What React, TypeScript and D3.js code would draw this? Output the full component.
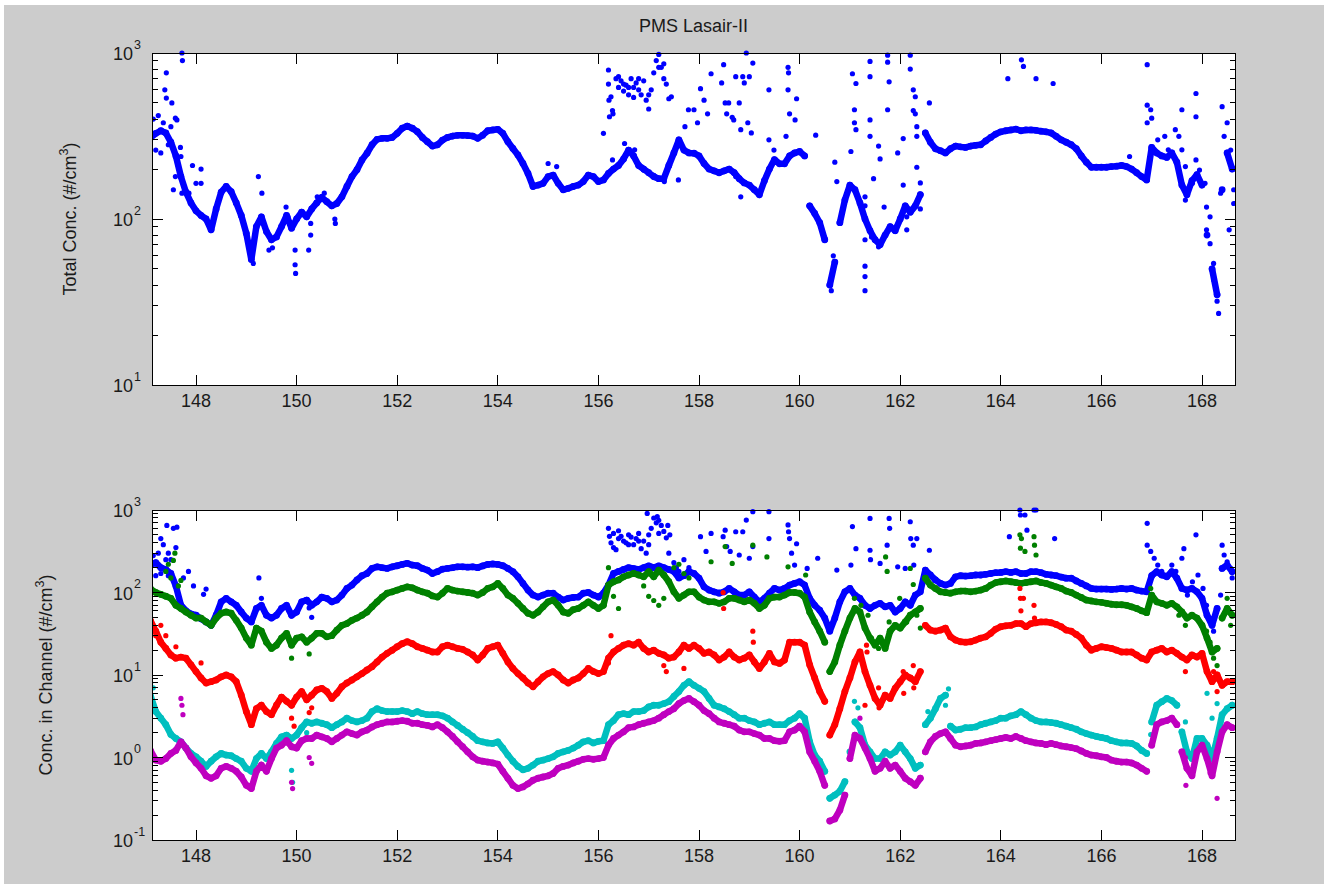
import React from "react";
import * as d3 from "d3";

// ---------------- data ----------------
const TITLE = "PMS Lasair-II";
const X_TICKS = [148, 150, 152, 154, 156, 158, 160, 162, 164, 166, 168];
const TOP_DECADES = [1, 2, 3];
const BOTTOM_DECADES = [-1, 0, 1, 2, 3];
const FIRST_DAY = 147.1;
const DAY_STEP = 0.1;

// Total concentration (#/cm3), one reading per 0.1 day from 147.1 to 168.6
const totalConc = [
  310, 328, 340, 330, 290, 240, 180, 145, 125, 112,
  105, 100, 86, 115, 145, 157, 146, 125, 105, 82,
  57, 90, 103, 84, 75, 78, 90, 105, 88, 100,
  110, 103, 115, 125, 135, 127, 120, 124, 136, 157,
  180, 198, 227, 249, 280, 302, 306, 306, 310, 328,
  352, 363, 352, 336, 310, 292, 275, 280, 299, 310,
  316, 319, 319, 318, 316, 306, 320, 340, 344, 347,
  328, 292, 266, 243, 216, 188, 157, 160, 164, 180,
  184, 164, 150, 153, 157, 160, 168, 184, 180, 168,
  172, 188, 200, 210, 230, 260, 240, 210, 200, 190,
  180, 175, 175, 210, 250, 300, 260, 250, 249, 240,
  216, 200, 195, 190, 195, 200, 190, 175, 165, 160,
  150, 140, 170, 200, 228, 215, 215, 240, 250, 255,
  240, 120, 108, 95, 75, 40, 55, 95, 130, 160,
  150, 125, 100, 85, 75, 70, 80, 90, 85, 100,
  120, 110, 120, 140, 330, 290, 265, 258, 250, 265,
  275, 272, 270, 275, 278, 280, 295, 310, 325, 335,
  340, 344, 348, 340, 344, 344, 342, 338, 335, 330,
  315, 300, 290, 280, 265, 240, 220, 205, 205, 205,
  205, 207, 208, 210, 207, 200, 190, 180, 172, 270,
  250, 240, 235, 250, 220, 160, 140, 170, 185, 160,
  80, 50, 35, 150, 250, 200,
];

// Isolated total-concentration readings [day, value]
const totalExtra: [number, number][] = [
  [147.72, 1000], [147.73, 900], [147.41, 760], [147.38, 600], [147.41, 535], [147.52, 500],
  [147.59, 405], [147.62, 395], [147.69, 270], [147.7, 238], [147.59, 180], [147.55, 150],
  [147.93, 210], [148.1, 200], [148.1, 164], [147.72, 143], [147.86, 143], [148.0, 164],
  [147.15, 400], [147.2, 260], [147.25, 420], [147.3, 250], [147.35, 380], [147.45, 280], [147.5, 360],
  [149.24, 180], [149.31, 143], [149.07, 65], [149.1, 58], [149.14, 54], [149.45, 65], [149.52, 67],
  [149.79, 118], [149.83, 103], [149.97, 65], [149.97, 53], [149.98, 47], [150.24, 65],
  [150.28, 94], [150.28, 80], [150.41, 136], [150.55, 143], [150.76, 100], [150.77, 94],
  [155.0, 216], [155.17, 207], [156.1, 328],
  [156.2, 790], [156.2, 650], [156.21, 520], [156.22, 413], [156.25, 545], [156.28, 450], [156.29, 430],
  [156.35, 700], [156.4, 620], [156.4, 720], [156.45, 680], [156.5, 590], [156.5, 650], [156.55, 640],
  [156.6, 560], [156.6, 620], [156.65, 700], [156.7, 620], [156.7, 540], [156.75, 660], [156.8, 600],
  [156.8, 700], [156.85, 560], [156.9, 680], [156.95, 520], [157.0, 460], [157.0, 560], [157.05, 600],
  [157.1, 760], [157.15, 900], [157.2, 980], [157.2, 820], [157.25, 820], [157.3, 700], [157.3, 860],
  [157.35, 650], [157.4, 530], [157.45, 545],
  [156.28, 227], [156.52, 285], [156.72, 261], [156.9, 197], [157.1, 183], [157.31, 168],
  [157.59, 172], [157.72, 360], [157.79, 455],
  [157.9, 455], [157.97, 380], [158.03, 610], [158.1, 520], [158.17, 430], [158.24, 750], [158.45, 660],
  [158.49, 850], [158.52, 500], [158.55, 430], [158.59, 500], [158.66, 410], [158.69, 395], [158.73, 720],
  [158.8, 500], [158.83, 345], [158.87, 720], [158.9, 660], [158.94, 1000], [158.97, 380], [159.0, 720],
  [159.04, 330], [159.07, 870], [159.39, 600], [159.39, 300], [159.49, 260], [159.77, 820], [159.78, 760],
  [159.77, 600], [159.8, 430], [159.91, 395], [159.94, 530], [159.73, 315], [160.32, 320],
  [158.83, 136], [158.73, 180],
  [160.7, 220], [160.74, 168], [161.05, 750], [161.12, 655], [161.09, 455], [161.09, 380], [161.12, 345],
  [161.02, 255], [161.4, 890], [161.4, 720], [161.4, 395], [161.4, 315], [161.57, 275], [161.6, 230],
  [161.47, 175], [161.3, 75], [161.3, 52], [161.3, 45], [161.3, 37], [161.75, 970], [161.75, 880],
  [161.75, 455], [161.78, 670], [161.95, 250], [162.06, 305], [162.06, 160], [162.2, 970], [162.2, 800],
  [162.26, 600], [162.26, 450], [162.3, 545], [162.3, 430], [162.33, 360], [162.33, 315], [162.33, 205],
  [162.4, 165], [162.4, 115], [162.58, 500], [160.67, 60], [160.6, 40], [160.63, 37], [161.3, 136],
  [161.3, 120], [161.43, 78], [161.57, 68], [161.68, 118], [161.92, 90], [162.13, 103], [162.13, 86],
  [164.14, 700], [164.41, 910], [164.45, 830], [164.7, 700], [165.04, 655], [166.91, 850], [166.56, 238],
  [166.91, 485], [166.91, 380], [166.98, 455], [167.0, 405], [167.12, 300], [167.26, 315], [167.33, 261],
  [167.47, 345], [167.54, 315], [167.6, 455], [167.6, 261], [167.67, 207], [167.67, 130], [167.81, 164],
  [167.88, 570], [167.88, 413], [167.88, 227], [167.95, 197], [168.06, 164], [168.09, 118], [168.16, 103],
  [168.09, 86], [168.16, 71], [168.23, 54], [168.23, 43], [168.3, 32], [168.33, 27], [168.37, 143],
  [168.4, 475], [168.44, 315], [168.5, 380], [168.57, 260], [168.6, 205], [168.63, 150], [168.63, 124],
  [168.54, 86],
];

// Concentration per channel (#/cm3), one reading per 0.1 day from 147.1 to 168.6
const channel1 = [
  215, 230, 200, 190, 170, 120, 70, 60, 55, 53,
  48, 44, 40, 53, 77, 85, 77, 70, 58, 49,
  44, 64, 70, 53, 49, 53, 64, 70, 53, 58,
  77, 81, 70, 77, 88, 85, 77, 81, 93, 112,
  123, 142, 160, 170, 196, 205, 200, 196, 205, 211,
  219, 226, 215, 211, 196, 187, 170, 179, 192, 196,
  200, 205, 205, 203, 205, 200, 210, 219, 222, 219,
  211, 196, 179, 155, 129, 107, 93, 88, 93, 98,
  98, 88, 81, 85, 87, 88, 98, 100, 93, 88,
  98, 123, 170, 180, 190, 200, 195, 190, 200, 210,
  200, 210, 200, 190, 180, 150, 160, 180, 170, 149,
  117, 107, 102, 98, 102, 112, 102, 93, 93, 102,
  88, 77, 85, 98, 112, 107, 112, 123, 129, 135,
  123, 85, 70, 61, 49, 34, 49, 77, 102, 112,
  93, 85, 70, 64, 70, 74, 67, 70, 58, 64,
  77, 70, 93, 102, 187, 163, 142, 129, 123, 129,
  155, 160, 158, 160, 163, 163, 166, 170, 174, 175,
  179, 175, 179, 170, 170, 179, 179, 174, 166, 163,
  160, 154, 149, 149, 138, 129, 120, 112, 110, 110,
  110, 109, 110, 112, 110, 112, 107, 104, 102, 160,
  179, 163, 155, 179, 149, 112, 107, 112, 102, 85,
  53, 40, 64, 196, 215, 179,
];
const channel2 = [
  110, 100, 95, 90, 85, 70, 64, 58, 53, 49,
  49, 44, 40, 49, 56, 58, 56, 46, 37, 28,
  23, 37, 34, 25, 21, 23, 28, 32, 23, 28,
  29, 25, 28, 32, 32, 29, 30, 35, 40, 42,
  46, 49, 53, 58, 67, 77, 88, 98, 102, 107,
  112, 117, 114, 107, 102, 98, 91, 88, 98, 112,
  107, 104, 102, 100, 98, 93, 100, 112, 117, 129,
  112, 93, 85, 74, 64, 56, 53, 58, 67, 77,
  81, 70, 58, 56, 62, 64, 70, 77, 70, 64,
  70, 123, 135, 142, 155, 163, 170, 163, 155, 179,
  155, 187, 163, 135, 102, 85, 93, 102, 102, 88,
  81, 77, 77, 74, 77, 85, 85, 81, 77, 81,
  74, 64, 70, 85, 88, 88, 93, 100, 100, 98,
  88, 58, 44, 34, 25, 11, 14.4, 23, 34, 49,
  64, 58, 37, 28, 23, 28, 21, 34, 40, 37,
  44, 53, 58, 64, 149, 123, 112, 102, 100, 98,
  102, 104, 104, 102, 104, 107, 112, 123, 132, 135,
  138, 135, 132, 129, 132, 135, 138, 132, 129, 123,
  117, 112, 104, 100, 93, 87, 81, 79, 77, 76,
  74, 72, 71, 71, 70, 67, 64, 60, 57, 93,
  77, 74, 70, 74, 67, 58, 49, 53, 49, 40,
  28, 19, 21, 49, 64, 53,
];
const channel3 = [
  45, 34, 25, 21, 17.5, 16, 16.5, 16, 13.3, 11,
  9.2, 8, 8.3, 8.7, 9.5, 10, 9.5, 8.3, 5.7, 3.6,
  2.5, 3.9, 4.3, 3.6, 3.3, 4.3, 5.4, 4.8, 4.3, 5.4,
  6.3, 5.0, 5.7, 6.6, 6.9, 6.3, 5.2, 6.0, 7.2, 8.0,
  8.7, 9.5, 10.4, 11.5, 12.6, 14.4, 16.5, 18.3, 20, 22,
  24, 25.3, 24, 22, 21, 20, 19, 19, 22, 23,
  22, 21, 20.5, 19, 17.5, 15.2, 17.5, 21, 22, 23,
  18.3, 14.4, 12, 10.4, 9.2, 8.0, 7.2, 8.3, 9.5, 10.4,
  11, 10, 8.7, 8.0, 8.7, 9.2, 10.4, 12, 11, 10.4,
  11, 16, 19, 21, 23, 24, 23, 25, 21, 19,
  20, 18.3, 17.5, 16, 16.5, 19, 23, 21, 23, 21,
  18.3, 19, 17.5, 15.2, 16.5, 19, 16.5, 15.2, 16, 17.5,
  14.4, 12, 14.4, 18.3, 14.4, 13.8, 15.2, 25, 25, 25,
  23, 13.3, 9.2, 6.3, 4.8, 1.87, 2.5, 3.9, 6.3, 9.2,
  14.4, 19, 11, 7.5, 5.2, 4.3, 5.7, 5.2, 6.9, 8.3,
  10, 9.2, 8.3, 11, 40, 35, 34, 35, 37, 29,
  26.5, 25.3, 25, 25.3, 26.5, 28, 29, 32, 36, 38.5,
  39.5, 40, 42, 42, 38.5, 42, 43, 44, 44, 43,
  41, 38.5, 35, 34, 31, 28, 23, 20, 21, 22,
  21.5, 21, 20, 19, 19, 19, 17.5, 16, 15.2, 19,
  20, 21, 19, 20, 18.3, 16.5, 15.2, 17.5, 16.5, 18.3,
  11, 8.3, 10, 7.5, 8.3, 8.3,
];
const channel4 = [
  5.5, 3.6, 3.0, 2.5, 1.9, 1.7, 1.55, 1.3, 1.12, 1.02,
  0.9, 0.78, 0.9, 1.02, 1.12, 1.07, 1.05, 0.97, 0.9, 0.74,
  0.68, 0.97, 1.12, 0.97, 1.17, 1.48, 1.78, 1.87, 1.7, 1.87,
  2.3, 2.7, 2.6, 2.7, 2.6, 2.5, 2.3, 2.5, 2.7, 3.0,
  2.8, 2.7, 2.8, 3.0, 3.6, 3.9, 3.7, 3.6, 3.6, 3.6,
  3.7, 3.6, 3.4, 3.6, 3.4, 3.3, 3.3, 3.3, 3.2, 3.0,
  2.7, 2.45, 2.2, 2.0, 1.8, 1.6, 1.55, 1.5, 1.48, 1.55,
  1.3, 1.07, 0.9, 0.78, 0.71, 0.74, 0.81, 0.9, 0.93, 0.97,
  1.02, 1.12, 1.17, 1.22, 1.3, 1.41, 1.55, 1.6, 1.5, 1.57,
  1.6, 2.5, 2.8, 3.3, 3.4, 3.3, 3.6, 3.6, 3.7, 4.1,
  4.3, 4.3, 4.5, 4.75, 5.5, 6.3, 7.5, 8.3, 7.5, 6.9,
  6.3, 5.2, 4.3, 4.1, 3.9, 3.6, 3.3, 3.0, 3.0, 2.8,
  2.7, 2.5, 2.6, 2.7, 2.5, 2.5, 2.5, 2.8, 3.0, 3.4,
  3.0, 1.55, 1.07, 0.9, 0.68, 0.32, 0.35, 0.39, 0.51, 1.17,
  2.7, 2.3, 1.41, 1.17, 0.97, 0.97, 1.17, 1.07, 1.17, 1.41,
  1.17, 0.97, 0.74, 0.81, 2.5, 3.0, 3.9, 5.2, 5.7, 2.4,
  2.15, 2.2, 2.3, 2.3, 2.35, 2.5, 2.6, 2.7, 2.8, 3.0,
  3.0, 3.2, 3.3, 3.6, 3.3, 3.0, 2.8, 2.7, 2.7, 2.65,
  2.6, 2.5, 2.4, 2.3, 2.2, 2.05, 1.95, 1.87, 1.8, 1.75,
  1.7, 1.6, 1.55, 1.5, 1.5, 1.48, 1.38, 1.22, 1.12, 2.7,
  4.3, 4.75, 5.2, 4.9, 4.3, 2.05, 1.17, 0.97, 1.7, 1.7,
  1.41, 0.97, 1.7, 3.3, 3.9, 4.3,
];
const channel5 = [
  1.2, 0.93, 0.9, 0.97, 1.12, 1.22, 1.55, 1.3, 1.02, 0.86,
  0.74, 0.6, 0.56, 0.6, 0.74, 0.78, 0.74, 0.68, 0.58, 0.46,
  0.42, 0.68, 0.81, 0.68, 0.97, 1.3, 1.41, 1.6, 1.35, 1.3,
  1.6, 1.7, 1.7, 1.87, 1.78, 1.7, 1.55, 1.7, 1.87, 2.05,
  1.95, 1.87, 2.05, 2.15, 2.35, 2.5, 2.6, 2.7, 2.7, 2.75,
  2.8, 2.75, 2.6, 2.6, 2.5, 2.45, 2.35, 2.5, 2.3, 2.05,
  1.8, 1.55, 1.35, 1.17, 1.02, 0.93, 0.9, 0.88, 0.86, 0.83,
  0.68, 0.56, 0.46, 0.42, 0.44, 0.48, 0.53, 0.56, 0.58, 0.6,
  0.64, 0.74, 0.78, 0.81, 0.86, 0.9, 0.95, 0.97, 0.95, 0.97,
  1.0, 1.41, 1.7, 1.87, 2.05, 2.3, 2.35, 2.5, 2.6, 2.7,
  2.8, 3.0, 3.3, 3.6, 3.9, 4.5, 4.9, 5.2, 4.75, 4.3,
  3.7, 3.4, 3.0, 2.7, 2.6, 2.5, 2.4, 2.15, 2.05, 2.05,
  1.95, 1.87, 1.7, 1.7, 1.6, 1.57, 1.6, 2.05, 2.15, 2.4,
  2.05, 1.17, 0.9, 0.68, 0.46, 0.17, 0.18, 0.23, 0.35, 0.97,
  1.87, 1.7, 1.3, 0.97, 0.68, 0.74, 0.9, 0.74, 0.81, 0.68,
  0.56, 0.51, 0.46, 0.56, 1.17, 1.55, 1.8, 1.95, 2.05, 1.7,
  1.41, 1.35, 1.38, 1.41, 1.48, 1.5, 1.55, 1.6, 1.65, 1.7,
  1.75, 1.7, 1.8, 1.7, 1.6, 1.55, 1.5, 1.48, 1.43, 1.48,
  1.43, 1.38, 1.35, 1.32, 1.28, 1.2, 1.12, 1.07, 1.05, 1.02,
  1.0, 0.93, 0.9, 0.88, 0.88, 0.86, 0.81, 0.74, 0.68, 1.41,
  2.5, 2.7, 2.8, 3.0, 2.5, 1.17, 0.74, 0.6, 1.17, 1.41,
  0.97, 0.6, 1.17, 2.05, 2.5, 2.3,
];

// Isolated channel readings [day, value]
const channel1Extra: [number, number][] = [
  [147.3, 450], [147.35, 380], [147.42, 650], [147.45, 300], [147.5, 250], [147.55, 600], [147.62, 620],
  [147.6, 350], [147.75, 150], [147.85, 180], [147.95, 120], [148.15, 95], [148.2, 110], [149.25, 150],
  [149.3, 85], [149.85, 60], [150.25, 65], [150.3, 50],
  [147.15, 280], [147.2, 160], [147.25, 300], [147.3, 170], [147.4, 250], [147.45, 160],
  [156.2, 600], [156.22, 480], [156.25, 400], [156.3, 350], [156.3, 520], [156.35, 330], [156.4, 450],
  [156.4, 560], [156.45, 480], [156.5, 420], [156.55, 400], [156.6, 500], [156.6, 380], [156.65, 470],
  [156.7, 380], [156.75, 450], [156.8, 520], [156.8, 420], [156.85, 340], [156.9, 420], [156.95, 300],
  [156.97, 910], [157.0, 500], [157.0, 380], [157.05, 600], [157.1, 800], [157.15, 700], [157.17, 830],
  [157.2, 750], [157.2, 520], [157.25, 650], [157.3, 550], [157.35, 460], [157.38, 650], [157.4, 300],
  [157.42, 500], [157.5, 230], [157.55, 200], [157.6, 180], [157.7, 250], [157.75, 160], [157.8, 200],
  [159.07, 955], [159.39, 955], [158.94, 755], [158.52, 570], [158.73, 545], [158.87, 545], [158.48, 475],
  [158.24, 520], [158.03, 475], [158.55, 360], [158.62, 315], [158.8, 285], [159.0, 260], [158.14, 315],
  [159.07, 360], [159.39, 450], [159.77, 660], [159.78, 545], [159.8, 450], [159.84, 300], [159.94, 390],
  [159.9, 215], [160.15, 196], [160.36, 260], [160.74, 187], [161.02, 215], [161.05, 630], [161.12, 340],
  [161.4, 790], [161.4, 325], [161.41, 250], [161.6, 225], [161.78, 790], [161.79, 600], [161.74, 375],
  [161.95, 205], [162.2, 720], [162.21, 450], [162.26, 375], [162.27, 215], [162.33, 450], [162.1, 196],
  [162.58, 325], [164.38, 1000], [164.39, 870], [164.48, 870], [164.66, 1000], [164.7, 1000], [164.17, 475],
  [164.52, 570], [165.07, 450], [166.91, 690], [166.91, 375], [166.98, 315], [167.05, 260], [167.12, 215],
  [167.2, 180], [167.26, 163], [167.4, 215], [167.48, 180], [167.6, 260], [167.64, 340], [167.88, 500],
  [167.92, 163], [168.02, 112], [168.09, 70], [168.16, 49], [168.23, 34], [168.4, 375], [168.44, 285],
  [168.5, 236], [168.57, 196], [168.6, 150], [168.37, 93], [167.81, 135], [167.71, 93],
];
const channel2Extra: [number, number][] = [
  [147.4, 180], [147.45, 220], [147.5, 150], [147.55, 245], [147.58, 300], [147.65, 120], [147.7, 140],
  [149.9, 16], [150.25, 18], [156.2, 200], [156.3, 90], [156.4, 64], [157.0, 90], [157.1, 80],
  [157.2, 70], [157.3, 85], [156.9, 120], [157.5, 200], [157.6, 220], [157.7, 170], [157.8, 150],
  [158.24, 236], [158.52, 360], [158.66, 225], [159.07, 375], [159.35, 270], [159.77, 205], [160.12, 163],
  [161.09, 85], [161.22, 70], [161.36, 53], [161.43, 28], [161.57, 21], [161.71, 270], [161.74, 180],
  [161.78, 44], [161.99, 85], [162.13, 44], [162.2, 196], [162.26, 125], [162.33, 53], [162.4, 37],
  [164.38, 500], [164.39, 345], [164.41, 450], [164.48, 315], [164.66, 475], [164.67, 375], [164.7, 285],
  [166.98, 112], [167.54, 53], [167.67, 40], [168.09, 34], [168.16, 25], [168.23, 16], [168.3, 13],
  [168.5, 85], [168.57, 40],
];
const channel3Extra: [number, number][] = [
  [147.2, 30], [147.3, 40], [147.4, 30], [147.6, 22], [148.1, 14], [149.9, 3], [149.95, 2.4],
  [150.25, 3.5], [150.3, 4], [156.25, 30], [156.2, 14], [157.3, 13], [157.35, 11], [157.7, 12],
  [158.48, 100], [158.49, 64], [159.07, 34], [159.08, 25], [161.33, 23], [161.34, 19], [161.3, 4.3],
  [161.57, 7], [161.58, 4], [162.06, 11], [162.07, 6], [162.26, 13], [162.27, 7], [164.38, 112],
  [164.39, 85], [164.4, 60], [164.45, 85], [164.66, 70], [164.67, 49], [167.67, 11], [168.23, 11],
  [168.3, 6.3],
];
const channel4Extra: [number, number][] = [
  [147.1, 8], [147.15, 7], [149.9, 0.7], [149.92, 0.5], [150.2, 2.0], [161.16, 4], [161.17, 2.4],
  [161.09, 4.8], [162.55, 3.6], [162.96, 6.8], [162.9, 4.3], [168.1, 6], [168.2, 3], [168.3, 4.5],
  [167.67, 2.7], [166.98, 1.9],
];
const channel5Extra: [number, number][] = [
  [147.7, 5.2], [147.72, 4.3], [147.74, 3.3], [149.9, 0.5], [149.92, 0.42], [150.25, 1.0], [150.3, 0.85],
  [161.2, 3], [161.21, 1.7], [167.67, 1.0], [167.68, 0.46], [168.16, 0.65], [168.3, 0.32],
];

const CHANNEL_COLORS = ["#0000ff", "#008000", "#ff0000", "#00bfbf", "#bf00bf"];

// ---------------- drawing ----------------
const FONT = "'Liberation Sans', Arial, Helvetica, sans-serif";
const TEXT = "#1a1a1a";

type Panel = {
  y: d3.ScaleLogarithmic<number, number>;
  decades: number[];
  top: number;
  bottom: number;
};

function Axes({ x, panel, left, right }: { x: d3.ScaleLinear<number, number>; panel: Panel; left: number; right: number }) {
  const { y, decades, top, bottom } = panel;
  const major = 10.5;
  const minor = 5.5;
  const minorVals: number[] = [];
  for (let i = 0; i < decades.length - 1; i++) {
    for (let k = 2; k <= 9; k++) minorVals.push(k * Math.pow(10, decades[i]));
  }
  return (
    <g>
      <g stroke="#000" strokeWidth={1} shapeRendering="crispEdges">
        {X_TICKS.map((t) => (
          <g key={"x" + t}>
            <line x1={x(t)} x2={x(t)} y1={bottom} y2={bottom - major} />
            <line x1={x(t)} x2={x(t)} y1={top} y2={top + major} />
          </g>
        ))}
        {decades.map((d) => {
          const yy = y(Math.pow(10, d));
          return (
            <g key={"y" + d}>
              <line x1={left} x2={left + major} y1={yy} y2={yy} />
              <line x1={right} x2={right - major} y1={yy} y2={yy} />
            </g>
          );
        })}
        {minorVals.map((v, i) => {
          const yy = y(v);
          return (
            <g key={"m" + i}>
              <line x1={left} x2={left + minor} y1={yy} y2={yy} />
              <line x1={right} x2={right - minor} y1={yy} y2={yy} />
            </g>
          );
        })}
        <rect x={left} y={top} width={right - left} height={bottom - top} fill="none" />
      </g>
      <g fontFamily={FONT} fill={TEXT}>
        {X_TICKS.map((t) => (
          <text key={"xl" + t} x={x(t)} y={bottom + 22} fontSize={18} textAnchor="middle">
            {t}
          </text>
        ))}
        {decades.map((d) => {
          const yy = y(Math.pow(10, d));
          return (
            <g key={"yl" + d}>
              <text x={133} y={yy + 7} fontSize={18} textAnchor="end">10</text>
              <text x={134} y={yy - 4.5} fontSize={12.5} textAnchor="start">{String(d)}</text>
            </g>
          );
        })}
      </g>
    </g>
  );
}

// Splits a sampled series into runs of consecutive readings without large jumps,
// so dense stretches read as a continuous band of markers.
function runs(values: number[], maxJumpDecades: number): number[][] {
  const out: number[][] = [];
  let cur: number[] = [];
  values.forEach((v, i) => {
    if (i > 0 && Math.abs(Math.log10(v) - Math.log10(values[i - 1])) > maxJumpDecades) {
      out.push(cur);
      cur = [];
    }
    cur.push(i);
  });
  if (cur.length) out.push(cur);
  return out;
}

function Series({ values, extra, x, y, color, jump }: {
  values: number[]; extra: [number, number][]; x: d3.ScaleLinear<number, number>;
  y: d3.ScaleLogarithmic<number, number>; color: string; jump: number;
}) {
  const dayOf = (i: number) => FIRST_DAY + i * DAY_STEP;
  const line = d3.line<number>().x((i) => x(dayOf(i))).y((i) => y(values[i])).curve(d3.curveLinear);
  return (
    <g>
      {runs(values, jump).map((r, k) =>
        r.length > 1 ? (
          <path key={"r" + k} d={line(r) || ""} fill="none" stroke={color} strokeWidth={6.5}
            strokeLinecap="round" strokeLinejoin="round" />
        ) : null
      )}
      <g fill={color}>
        {values.map((v, i) => (
          <circle key={"p" + i} cx={x(dayOf(i))} cy={y(v)} r={3.4} />
        ))}
        {extra.map(([d, v], i) => (
          <circle key={"e" + i} cx={x(d)} cy={y(v)} r={2.6} />
        ))}
      </g>
    </g>
  );
}

export default function App() {
  const W = 1331;
  const H = 884;
  const left = 152;
  const right = 1235;
  const x = d3.scaleLinear().domain([147.125, 168.656]).range([left, right]);
  const topPanel: Panel = { y: d3.scaleLog().domain([10, 1000]).range([385, 53]), decades: TOP_DECADES, top: 53, bottom: 385 };
  const botPanel: Panel = { y: d3.scaleLog().domain([0.1, 1000]).range([840, 510]), decades: BOTTOM_DECADES, top: 510, bottom: 840 };

  const channels = [
    { main: channel1, extra: channel1Extra },
    { main: channel2, extra: channel2Extra },
    { main: channel3, extra: channel3Extra },
    { main: channel4, extra: channel4Extra },
    { main: channel5, extra: channel5Extra },
  ];

  return (
    <svg width={W} height={H} style={{ position: "absolute", left: 0, top: 0, display: "block" }}>
      <defs>
        <clipPath id="clipTop">
          <rect x={left} y={50} width={right - left} height={385 - 50} />
        </clipPath>
        <clipPath id="clipBot">
          <rect x={left} y={507} width={right - left} height={840 - 507} />
        </clipPath>
      </defs>
      <rect x={0} y={0} width={W} height={H} fill="#ffffff" />
      <rect x={4} y={5} width={1320} height={H - 5} fill="#cccccc" />
      <rect x={left} y={53} width={right - left} height={385 - 53} fill="#ffffff" />
      <rect x={left} y={510} width={right - left} height={840 - 510} fill="#ffffff" />

      <g clipPath="url(#clipTop)">
        <Series values={totalConc} extra={totalExtra} x={x} y={topPanel.y} color="#0000ff" jump={0.2} />
      </g>

      <g clipPath="url(#clipBot)">
        {channels.map((c, ci) => (
          <Series key={"c" + ci} values={c.main} extra={c.extra} x={x} y={botPanel.y}
            color={CHANNEL_COLORS[ci]} jump={0.3} />
        ))}
      </g>

      <Axes x={x} panel={topPanel} left={left} right={right} />
      <Axes x={x} panel={botPanel} left={left} right={right} />

      <g fontFamily={FONT} fill={TEXT}>
        <text x={(left + right) / 2} y={32} fontSize={18} textAnchor="middle">{TITLE}</text>
        <text transform={`translate(76, ${(53 + 385) / 2}) rotate(-90)`} fontSize={18} textAnchor="middle">
          Total Conc. (#/cm<tspan fontSize={12.5} dy={-8}>3</tspan><tspan dy={8}>)</tspan>
        </text>
        <text transform={`translate(52, ${(510 + 840) / 2}) rotate(-90)`} fontSize={18} textAnchor="middle">
          Conc. in Channel (#/cm<tspan fontSize={12.5} dy={-8}>3</tspan><tspan dy={8}>)</tspan>
        </text>
      </g>
    </svg>
  );
}
